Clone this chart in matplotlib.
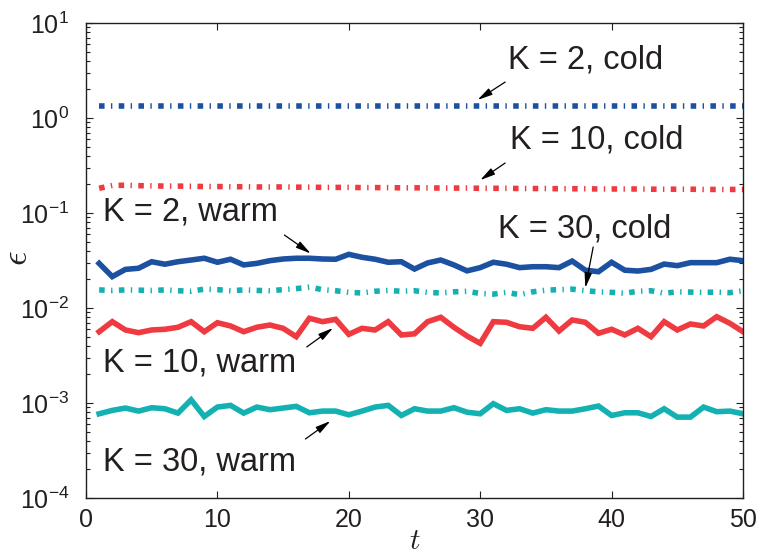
import numpy as np
import matplotlib
matplotlib.use("Agg")
import matplotlib.pyplot as plt
from matplotlib.ticker import LogLocator, NullFormatter, NullLocator

plt.rcParams['font.family'] = ['Liberation Sans', 'DejaVu Sans']
plt.rcParams['mathtext.fontset'] = 'custom'
plt.rcParams['mathtext.rm'] = 'Liberation Sans'
plt.rcParams['mathtext.it'] = 'Liberation Sans:italic'

t = np.arange(1, 51)

k2_cold = [1.33] * 50

k10_cold = [0.182, 0.195, 0.196, 0.194, 0.193, 0.192, 0.192, 0.191, 0.190, 0.190,
            0.189, 0.189, 0.188, 0.188, 0.188, 0.187, 0.187, 0.186, 0.186, 0.186,
            0.185, 0.185, 0.185, 0.184, 0.184, 0.184, 0.183, 0.183, 0.183, 0.182,
            0.182, 0.182, 0.181, 0.181, 0.181, 0.180, 0.180, 0.180, 0.179, 0.179,
            0.179, 0.179, 0.178, 0.178, 0.178, 0.178, 0.177, 0.177, 0.177, 0.177]

k30_cold = [0.0155, 0.0153, 0.0155, 0.0154, 0.0153, 0.0155, 0.0152, 0.0150, 0.0158, 0.0156,
            0.0152, 0.0155, 0.0153, 0.0152, 0.0156, 0.0160, 0.0166, 0.0156, 0.0152, 0.0146,
            0.0144, 0.0150, 0.0153, 0.0150, 0.0152, 0.0146, 0.0144, 0.0148, 0.0150, 0.0142,
            0.0140, 0.0146, 0.0138, 0.0148, 0.0154, 0.0156, 0.0158, 0.0152, 0.0148, 0.0146,
            0.0143, 0.0150, 0.0152, 0.0143, 0.0148, 0.0147, 0.0146, 0.0147, 0.0145, 0.0152]

k2_warm = [0.0295, 0.0214, 0.0255, 0.0262, 0.0307, 0.0289, 0.0307, 0.0320, 0.0334, 0.0303,
           0.0326, 0.0284, 0.0295, 0.0315, 0.0328, 0.0334, 0.0334, 0.0328, 0.0326, 0.0367,
           0.0342, 0.0326, 0.0303, 0.0307, 0.0257, 0.0298, 0.0320, 0.0284, 0.0246, 0.0266,
           0.0303, 0.0289, 0.0266, 0.0272, 0.0272, 0.0266, 0.0312, 0.0250, 0.0241, 0.0303,
           0.0250, 0.0245, 0.0255, 0.0290, 0.0279, 0.0300, 0.0300, 0.0300, 0.0326, 0.0315]

k10_warm = [0.00563, 0.00718, 0.00587, 0.00550, 0.00587, 0.00597, 0.00627, 0.00718, 0.00563, 0.00700,
            0.00647, 0.00563, 0.00627, 0.00662, 0.00611, 0.00499, 0.00780, 0.00718, 0.00760, 0.00528,
            0.00611, 0.00587, 0.00718, 0.00520, 0.00535, 0.00718, 0.00798, 0.00627, 0.00507, 0.00425,
            0.00718, 0.00707, 0.00635, 0.00611, 0.00798, 0.00573, 0.00748, 0.00707, 0.00542, 0.00597,
            0.00520, 0.00611, 0.00499, 0.00718, 0.00587, 0.00679, 0.00647, 0.00810, 0.00690, 0.00563]

k30_warm = [7.70e-4, 8.36e-4, 8.85e-4, 8.22e-4, 8.92e-4, 8.70e-4, 7.83e-4, 1.08e-3, 7.21e-4, 9.06e-4,
            9.44e-4, 7.83e-4, 9.06e-4, 8.50e-4, 8.85e-4, 9.22e-4, 7.89e-4, 8.22e-4, 8.22e-4, 7.51e-4,
            8.22e-4, 9.06e-4, 9.44e-4, 7.39e-4, 8.70e-4, 8.22e-4, 8.22e-4, 8.92e-4, 8.00e-4, 7.70e-4,
            9.84e-4, 8.36e-4, 8.70e-4, 7.83e-4, 8.50e-4, 8.22e-4, 8.22e-4, 8.70e-4, 9.29e-4, 7.39e-4,
            7.89e-4, 7.89e-4, 7.21e-4, 8.70e-4, 7.10e-4, 7.10e-4, 9.06e-4, 8.10e-4, 8.22e-4, 7.70e-4]

# label text, text position (t, eps), arrow tail, arrow head
labels = [
    ("K = 2, cold",  (32.1, 4.08),    (31.9, 2.39),    (29.8, 1.55)),
    ("K = 10, cold", (32.3, 0.586),   (31.9, 0.336),   (30.0, 0.222)),
    ("K = 2, warm",  (1.3, 0.1025),   (15.1, 0.0586),  (17.1, 0.0375)),
    ("K = 30, cold", (31.35, 0.0679), (38.6, 0.0439),  (38.0, 0.0163)),
    ("K = 10, warm", (1.3, 0.00264),  (16.8, 0.00389), (18.8, 0.00616)),
    ("K = 30, warm", (1.3, 2.39e-4),  (16.7, 4.18e-4), (18.6, 6.46e-4)),
]

blue = '#1c50a0'
red = '#ee3a40'
cyan = '#14b1b2'
dd = (1.0, 1.15, 0.25, 1.15)

fig = plt.figure(figsize=(7.61, 5.55), dpi=100)
ax = fig.add_axes([86/761, 1 - 498/555, 657/761, 475/555])

lw = 4.0
ax.plot(t, k2_cold, color=blue, lw=lw, dashes=dd, dash_capstyle='butt')
ax.plot(t, k10_cold, color=red, lw=lw, dashes=dd, dash_capstyle='butt')
ax.plot(t, k30_cold, color=cyan, lw=lw, dashes=dd, dash_capstyle='butt')
ax.plot(t, k2_warm, color=blue, lw=lw, solid_joinstyle='miter')
ax.plot(t, k10_warm, color=red, lw=lw, solid_joinstyle='miter')
ax.plot(t, k30_warm, color=cyan, lw=lw, solid_joinstyle='miter')

ax.set_yscale('log')
ax.set_xlim(0, 50)
ax.set_ylim(1e-4, 10)
ax.set_xticks([0, 10, 20, 30, 40, 50])
ax.xaxis.set_minor_locator(NullLocator())
ax.yaxis.set_major_locator(LogLocator(base=10, numticks=10))
ax.yaxis.set_minor_locator(LogLocator(base=10, subs=np.arange(2, 10), numticks=10))
ax.yaxis.set_minor_formatter(NullFormatter())

txtc = '#231f20'
ax.tick_params(which='both', direction='in', top=True, right=True,
               colors=txtc, labelsize=18, width=0.8)
ax.tick_params(which='major', length=5)
ax.tick_params(which='minor', length=3)
ax.tick_params(axis='y', which='major', pad=12)
ax.tick_params(axis='x', which='major', pad=7)
for s in ax.spines.values():
    s.set_color(txtc)
    s.set_linewidth(1.0)

ax.set_xlabel(r'$t$', fontsize=21, color=txtc, math_fontfamily='cm')
ax.set_ylabel(r'$\epsilon$', fontsize=26, color=txtc, math_fontfamily='cm')
ax.xaxis.set_label_coords(0.5008, -0.062)
ax.yaxis.set_label_coords(-0.077, 0.505)

for text, pos, tail, head in labels:
    ax.text(pos[0], pos[1], text, fontsize=23.5, color=txtc, ha='left', va='center')
    ax.annotate('', xy=head, xytext=tail,
                arrowprops=dict(arrowstyle='-|>,head_length=0.9,head_width=0.22',
                                color='black', lw=0.9, shrinkA=0, shrinkB=0))

fig.savefig('out.png', dpi=100)
